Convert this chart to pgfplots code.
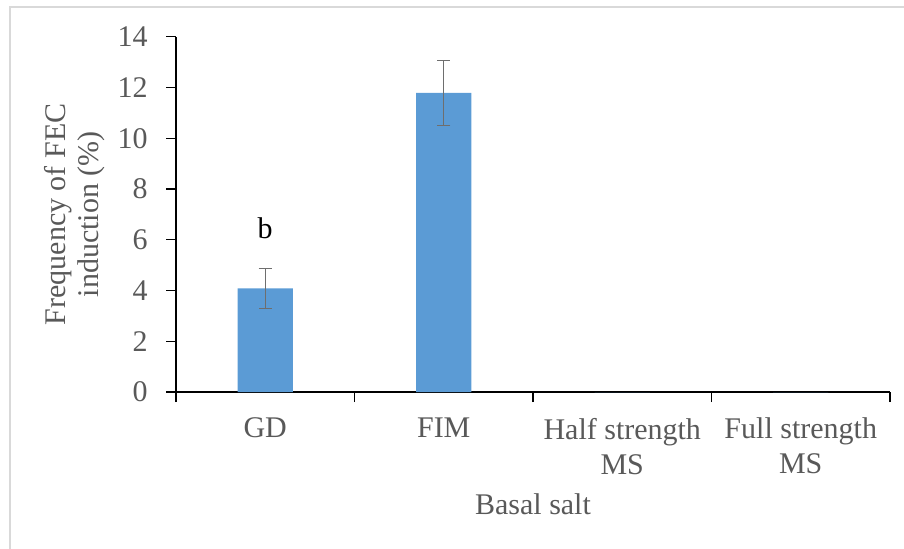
\documentclass[border=0pt]{standalone}
\usepackage{fontspec}
\setmainfont{Liberation Serif}
\usepackage{pgfplots}
\pgfplotsset{compat=1.18}
\definecolor{barblue}{HTML}{5B9BD5}
\definecolor{txtgray}{HTML}{595959}
\definecolor{errgray}{HTML}{6E6E6E}
\definecolor{framegray}{HTML}{D9D9D9}
\begin{document}
\begin{tikzpicture}
\useasboundingbox (0,0) rectangle (452pt,-274pt);
\draw[framegray, line width=1.2pt] (5pt,-300pt) -- (5pt,-3.5pt) -- (470pt,-3.5pt);
\begin{axis}[
  at={(88pt,-196pt)}, anchor=south west,
  scale only axis, width=357pt, height=177.65pt,
  font=\fontsize{15pt}{17.5pt}\selectfont,
  /pgf/number format/assume math mode=true,
  axis lines*=left,
  axis line style={line width=0.7pt, black},
  xmin=-0.5, xmax=3.5, ymin=0, ymax=14,
  ytick={0,2,...,14},
  xtick={0,1,2,3},
  xticklabels={GD,FIM,{Half strength\\MS},{Full strength\\MS}},
  minor xtick={-0.5,0.5,1.5,2.5,3.5},
  major x tick style={draw=none},
  tick align=outside,
  major tick length=5pt, minor tick length=5pt,
  every tick/.style={black, line width=0.7pt},
  xticklabel style={align=center, anchor=north, inner sep=0pt, text=txtgray},
  yticklabel style={anchor=east, inner sep=0pt, text=txtgray},
  xticklabel shift=7.8pt,
  yticklabel shift=9pt,
  xlabel={Basal salt},
  ylabel={Frequency of FEC\\induction (\%)},
  xlabel style={at={(axis description cs:0.5,-0.346)}, anchor=base, text=txtgray},
  ylabel style={at={(axis description cs:-0.1425,0.5)}, anchor=center, align=center, inner sep=0pt,
    font=\fontsize{15pt}{16.5pt}\selectfont, text=txtgray},
  ybar, bar width=27.65pt,
  clip=false,
]
\addplot[fill=barblue, draw=none, bar shift=0pt,
  error bars/.cd, y dir=both, y explicit,
  error bar style={errgray, line width=0.6pt},
  error mark options={errgray, line width=0.6pt, rotate=90, mark size=3.25pt}]
  coordinates {(0,4.085) +- (0,0.785) (1,11.79) +- (0,1.28)};
\addplot[fill=barblue, draw=none, bar shift=0pt, forget plot]
  coordinates {(2,0) (3,0)};
\node[anchor=base, font=\fontsize{15pt}{17.5pt}\selectfont, text=black] at (axis cs:0,6.03) {b};
\end{axis}
\end{tikzpicture}
\end{document}
